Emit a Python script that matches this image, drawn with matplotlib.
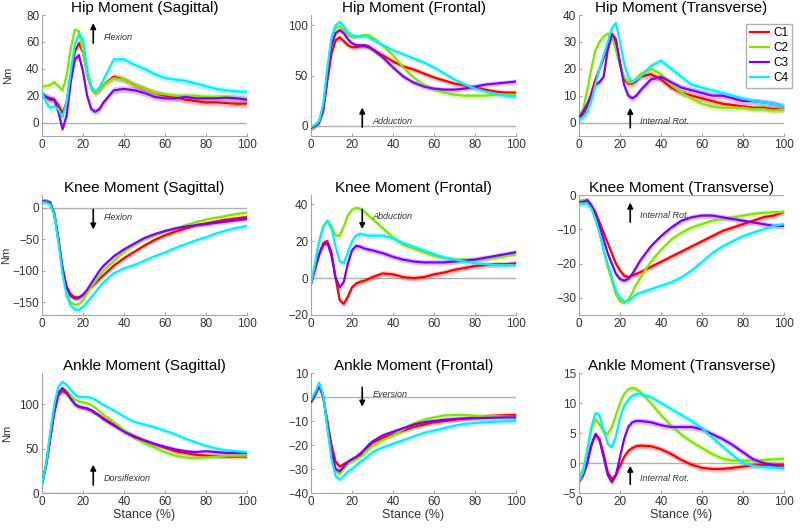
import matplotlib
matplotlib.use('Agg')
import matplotlib.pyplot as plt

plt.rcParams['font.family'] = ['Liberation Sans', 'DejaVu Sans']

stance = [0, 2, 4, 6, 8, 10, 12, 14, 16, 18, 20, 22, 24, 26, 28, 30,
          35, 40, 45, 50, 55, 60, 65, 70, 75, 80, 85, 90, 95, 100]
groups = ['C1', 'C2', 'C3', 'C4']
colors = ['#ff0000', '#80e600', '#8000ff', '#00f0ff']

# each panel: C1, C2, C3, C4
hip_sag = [
    [21, 19, 17, 17, 13, 7, 15, 35, 53, 59, 52, 38, 26, 22, 24, 28, 34, 32, 28, 25, 22, 20, 19, 17, 16, 15, 15, 14.5, 14, 14],
    [27, 27, 28, 30, 27, 24, 35, 55, 69, 68, 52, 35, 25, 22, 24, 28, 33, 32, 28, 25, 22, 21, 20, 20, 20, 19, 19, 19, 18, 18],
    [21, 19, 18, 17, 8, -5, 5, 30, 47, 50, 38, 20, 10, 8, 10, 15, 24, 25, 24, 22, 19, 18, 18, 19, 18, 18, 18, 18.5, 18, 17],
    [22, 15, 11, 12, 10, 4, 15, 38, 58, 66, 62, 40, 26, 23, 26, 32, 47, 47, 43, 40, 36, 33, 32, 31, 29, 27, 25, 24, 23, 23],
]
hip_front = [
    [-2, 0, 3, 15, 45, 72, 85, 88, 84, 80, 78, 78, 79, 79, 78, 76, 70, 64, 59, 56, 52, 48, 45, 42, 40, 38, 36, 34, 33, 33],
    [-3, 0, 4, 20, 55, 85, 97, 99, 95, 90, 88, 88, 89, 90, 90, 88, 80, 70, 58, 48, 41, 36, 33, 31, 30, 30, 30, 31, 31, 31],
    [-2, 0, 4, 18, 50, 80, 92, 95, 92, 86, 82, 80, 80, 80, 79, 76, 68, 58, 49, 43, 39, 37, 36, 36, 37, 39, 41, 42, 43, 44],
    [-1, 1, 5, 22, 58, 88, 100, 103, 99, 93, 90, 89, 89, 89, 88, 86, 80, 75, 71, 67, 63, 58, 52, 46, 41, 37, 34, 32, 30, 29],
]
hip_trans = [
    [1, 3, 6, 11, 16, 20, 24, 28, 32, 30, 22, 16, 14.5, 14.5, 15.5, 17, 18, 16, 13, 11, 10, 9, 8, 7, 6.5, 6, 5.5, 5.5, 5, 5],
    [2, 5, 12, 20, 27, 30, 32, 33, 32, 27, 21, 17, 15, 15, 16.5, 18, 20, 18, 14, 11, 9, 7, 6, 5.5, 5.5, 5.5, 5, 5, 4.5, 5],
    [2, 4, 7, 10, 14, 15, 17, 27, 33, 31, 22, 14, 10, 9, 10, 12, 16, 17, 15, 13, 12, 11, 10, 10, 9, 8, 8, 7.5, 7, 6],
    [1, 2, 4, 8, 14, 20, 25, 30, 35, 37, 30, 22, 17, 15, 16, 17, 21, 23, 20, 17, 14, 13, 12, 11, 10, 9, 8, 7.5, 7, 6],
]
knee_sag = [
    [10, 10, 8, -10, -50, -95, -125, -137, -142, -142, -138, -132, -126, -120, -113, -107, -92, -80, -70, -60, -51, -44, -38, -33, -28, -25, -22, -19, -17, -15],
    [12, 12, 9, -8, -50, -100, -135, -150, -154, -153, -146, -136, -126, -117, -108, -100, -85, -70, -59, -50, -44, -38, -33, -28, -23, -19, -16, -13, -10, -8],
    [10, 10, 8, -10, -50, -96, -127, -140, -144, -143, -138, -130, -120, -110, -100, -92, -77, -66, -57, -48, -42, -37, -33, -30, -28, -26, -24, -22, -20, -18],
    [8, 8, 5, -12, -55, -105, -140, -155, -161, -162, -157, -150, -142, -134, -126, -118, -104, -96, -91, -84, -77, -71, -64, -58, -52, -47, -41, -36, -32, -29],
]
knee_front = [
    [-3, 5, 13, 19, 20, 14, 0, -12, -14, -10, -5, -3, -2, -1.5, -0.5, 0.5, 2.5, 2, 0.5, 0, 0.5, 2, 3, 4.5, 5.5, 6.5, 7, 7.5, 7.5, 8],
    [-3, 8, 20, 28, 31, 28, 23, 23, 28, 34, 37, 38, 37.5, 36, 34, 32, 27, 22, 18, 16, 14, 12, 11, 10, 10, 10, 10.5, 11, 12, 13],
    [-3, 5, 13, 18, 19, 12, 0, -5, -2, 8, 15, 17.5, 17, 16, 15.5, 15, 13.5, 11.5, 10, 9, 8.5, 8.5, 8.5, 9, 9.5, 10, 11, 12, 13, 14],
    [-3, 8, 20, 28, 31, 27, 17, 9, 8, 14, 20, 23, 24, 23.5, 23, 23, 23, 21.5, 19, 17, 15, 13, 11, 10, 9, 8, 7.5, 7, 7, 7],
]
knee_trans = [
    [-2, -2, -1.5, -3, -5, -8, -11, -14, -17, -20, -22, -23.5, -24, -23.5, -23, -22.5, -21, -19.5, -18, -16.5, -15, -13.5, -12, -10.5, -9.5, -8.5, -7.5, -6.5, -6, -5],
    [-2, -1.5, -1.5, -3, -7, -11, -16, -21, -25, -29, -31, -31.5, -30.5, -28.5, -26, -24, -19.5, -16, -13, -11, -9.5, -8.5, -7.5, -7, -6.5, -6, -5.5, -5.2, -5, -5],
    [-2, -2, -1.5, -3, -6, -9, -13, -17, -20, -23, -24.5, -25, -24.5, -23, -21, -19, -15, -12, -9.5, -7.5, -6.5, -6, -6, -6.5, -7, -7.5, -8, -8.5, -9, -9],
    [-2.5, -2.5, -2.5, -4, -7, -11, -16, -20, -24, -28, -30, -31, -31, -30, -29, -28.5, -27.5, -26.5, -25.5, -24, -22, -19.5, -17, -15, -13.5, -12, -11, -10, -9, -8.5],
]
ankle_sag = [
    [10, 30, 60, 90, 110, 115, 112, 106, 100, 97, 96, 95, 93, 90, 87, 84, 77, 70, 64, 59, 55, 51, 47, 45, 43, 42, 41.5, 41, 41, 41],
    [10, 32, 65, 95, 113, 118, 115, 110, 105, 103, 102, 101, 99, 96, 92, 88, 80, 71, 62, 56, 51, 46, 42, 40, 39, 40, 41, 42, 42, 42],
    [10, 32, 63, 93, 113, 118, 113, 106, 100, 97, 96, 95, 93, 90, 87, 83, 76, 69, 63, 59, 55, 52, 49, 47, 46, 47, 46, 45, 45, 45],
    [10, 33, 68, 100, 120, 125, 122, 116, 111, 108, 108, 108, 107, 105, 102, 99, 93, 86, 80, 77, 74, 70, 66, 61, 57, 53, 50, 48, 47, 46],
]
ankle_front = [
    [-2, 1, 4.5, 0, -10, -20, -27, -29, -28, -27, -26, -25, -23.5, -22, -20.5, -19, -17, -15.5, -14, -12.5, -11.5, -10.5, -10, -9.5, -9, -8.5, -8, -7.8, -7.6, -7.5],
    [-2, 1, 5, 0, -12, -24, -31, -32, -30, -28, -27, -26, -25, -23.5, -22, -20.5, -18, -16, -13.5, -11, -9.5, -8.5, -7.7, -7.5, -7.5, -7.8, -8, -8, -8.2, -8.3],
    [-2, 1, 5, 0, -12, -23, -30, -31, -29, -27, -26, -25, -24, -22, -20, -18.5, -16, -14.5, -13, -11.5, -10.5, -10, -9.5, -9.2, -9, -8.8, -8.7, -8.6, -8.5, -8.5],
    [-1, 2, 6, 1, -13, -26, -33, -34.5, -33, -31, -30, -28.5, -27, -26, -24.5, -23, -21, -19.5, -18, -16.5, -15, -14, -13, -12, -11.2, -10.8, -10.5, -10.3, -10.1, -10],
]
ankle_trans = [
    [-3, -2, 0, 3, 4.8, 4, 1.5, -1.5, -2.7, -2, -0.5, 1, 2, 2.5, 2.8, 2.9, 2.8, 2.3, 1.5, 0.5, -0.3, -0.8, -1, -1, -0.8, -0.6, -0.4, -0.3, -0.3, -0.3],
    [-2.5, -1, 2, 5.5, 7.3, 6.5, 5.2, 4.8, 6, 8, 10, 11.5, 12.3, 12.5, 12.3, 11.8, 10, 8, 6.2, 4.7, 3.5, 2.5, 1.5, 0.7, 0.4, 0.4, 0.4, 0.5, 0.6, 0.7],
    [-3, -2, 0, 3, 4.8, 3.8, 1, -2, -3.2, -2, 1, 4, 6, 6.8, 7, 7, 6.8, 6.3, 6, 6, 6, 5.6, 4.8, 4, 3, 1.8, 0.6, 0, -0.4, -0.7],
    [-3, -1.5, 2, 6, 8.3, 8, 5.5, 3.2, 2.6, 4.5, 7.5, 9.5, 10.5, 11.2, 11.5, 11.5, 11, 10, 9, 8, 7, 5.8, 4.2, 2.8, 1.3, 0, -0.5, -0.7, -0.8, -0.8],
]
# approximate standard-error half width of the shaded bands
band = [2.5, 2.5, 1.2, 3.5, 1.5, 0.8, 2.5, 1.0, 0.5]

panels = [hip_sag, hip_front, hip_trans, knee_sag, knee_front, knee_trans,
          ankle_sag, ankle_front, ankle_trans]
titles = ['Hip Moment (Sagittal)', 'Hip Moment (Frontal)', 'Hip Moment (Transverse)',
          'Knee Moment (Sagittal)', 'Knee Moment (Frontal)', 'Knee Moment (Transverse)',
          'Ankle Moment (Sagittal)', 'Ankle Moment (Frontal)', 'Ankle Moment (Transverse)']
ylims = [(-10, 80), (-10, 110), (-5, 40), (-170, 20), (-20, 45), (-35, 0),
         (0, 135), (-40, 10), (-5, 15)]
yticks = [[0, 20, 40, 60, 80], [0, 50, 100], [0, 10, 20, 30, 40],
          [-150, -100, -50, 0], [-20, 0, 20, 40], [-30, -20, -10, 0],
          [0, 50, 100], [-40, -30, -20, -10, 0, 10], [-5, 0, 5, 10, 15]]
# direction labels: text, arrow start, arrow end, text y
directions = [('Flexion', 57, 76, 63), ('Adduction', -4, 21, 4.5), ('Internal Rot.', -3, 6.5, 0.3),
              ('Flexion', 1.5, -39, -15), ('Abduction', 38.7, 25, 33.4), ('Internal Rot.', -8.7, -1.4, -6),
              ('Dorsiflexion', 6, 35, 16), ('Eversion', 5.2, -5.2, 1.2), ('Internal Rot.', -4, 0, -2.6)]

fig = plt.figure(figsize=(8, 5.28), dpi=100)
lefts = [42, 311, 579]
tops = [15, 195, 373]
heights = [121, 120, 120]
ylabel_px = [13, 11, 12]   # right edge of the rotated "Nm" label, in pixels
axgrey = '#a6a6a6'

for i, data in enumerate(panels):
    r, c = divmod(i, 3)
    ax = fig.add_axes([lefts[c] / 800, 1 - (tops[r] + heights[r]) / 528, 205 / 800, heights[r] / 528])
    ax.axhline(0, color='#b0b0b0', lw=1, zorder=1)
    for k, vals in enumerate(data):
        lo = [v - band[i] for v in vals]
        hi = [v + band[i] for v in vals]
        ax.fill_between(stance, lo, hi, color=colors[k], alpha=0.25, lw=0, zorder=2)
        ax.plot(stance, vals, color=colors[k], lw=1.6, label=groups[k], zorder=3)
    ax.set_xlim(0, 100)
    ax.set_ylim(*ylims[i])
    ax.set_xticks([0, 20, 40, 60, 80, 100])
    ax.set_yticks(yticks[i])
    ax.set_title(titles[i], fontsize=11, pad=2)
    for s in ['top', 'right']:
        ax.spines[s].set_visible(False)
    for s in ['left', 'bottom']:
        ax.spines[s].set_color(axgrey)
    ax.tick_params(direction='in', length=2.5, color=axgrey, labelsize=8.5,
                   labelcolor='#333333', pad=2)
    txt, y0, y1, ty = directions[i]
    ax.annotate('', xy=(25, y1), xytext=(25, y0),
                arrowprops=dict(arrowstyle='-|>', color='black', lw=1.2, mutation_scale=8))
    ax.text(30, ty, txt, fontsize=6.5, style='italic', color='#333333', va='center')
    if c == 0:
        ax.set_ylabel('Nm', fontsize=8, color='#333333')
        ax.yaxis.set_label_coords((ylabel_px[r] - lefts[0]) / 205, 0.5)
    if r == 2:
        ax.set_xlabel('Stance (%)', fontsize=9, color='#333333', labelpad=1)
    if i == 2:
        ax.legend(loc='upper right', bbox_to_anchor=(798 / 800, 1 - 18 / 528),
                  bbox_transform=fig.transFigure, fontsize=8.5, handlelength=1.6,
                  handletextpad=0.4, borderpad=0.3, labelspacing=0.25,
                  fancybox=False, edgecolor='#b0b0b0', framealpha=1)

fig.savefig('out.png', dpi=100)
